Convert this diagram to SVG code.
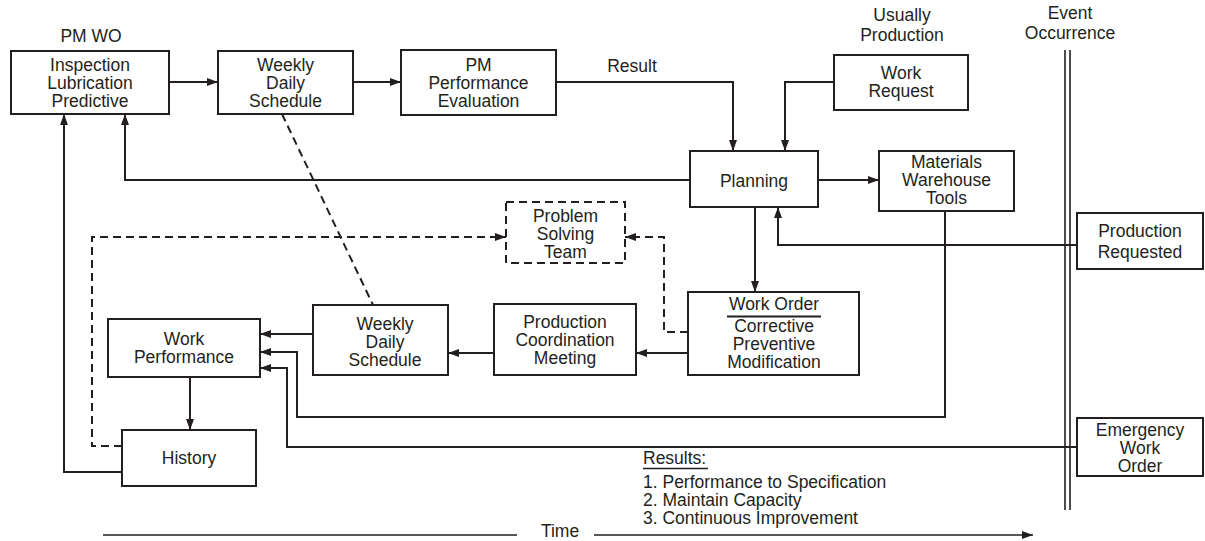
<svg xmlns="http://www.w3.org/2000/svg" width="1205" height="541" viewBox="0 0 1205 541">
  <style>
    .box { fill: #fff; stroke: #231f20; stroke-width: 2; }
    .dbox { fill: #fff; stroke: #231f20; stroke-width: 2; stroke-dasharray: 8 5; }
    .t { font-family: "Liberation Sans", Arial, sans-serif; font-size: 17.5px; fill: #231f20; text-anchor: middle; }
    .tl { font-family: "Liberation Sans", Arial, sans-serif; font-size: 17.5px; fill: #231f20; }
    .ln { fill: none; stroke: #231f20; stroke-width: 2; }
    .dl { fill: none; stroke: #231f20; stroke-width: 2; stroke-dasharray: 8 5; }
    .thin { fill: none; stroke: #231f20; stroke-width: 1.6; }
  </style>
  <defs>
    <marker id="arr" markerUnits="userSpaceOnUse" markerWidth="11" markerHeight="8" refX="11" refY="4" orient="auto">
      <path d="M0,0 L11,4 L0,8 z" fill="#231f20"/>
    </marker>
  </defs>
  <rect width="1205" height="541" fill="#fff"/>

  <!-- free labels -->
  <g id="labels">
    <text class="t" x="91" y="42">PM WO</text>
    <text class="t" x="632" y="72">Result</text>
    <text class="t" x="902" y="21">Usually</text>
    <text class="t" x="902" y="41">Production</text>
    <text class="t" x="1070" y="19">Event</text>
    <text class="t" x="1070" y="39">Occurrence</text>
    <text class="tl" x="643" y="464">Results:</text>
    <line class="thin" x1="643" y1="468.5" x2="708" y2="468.5"/>
    <text class="tl" x="643" y="488">1. Performance to Specification</text>
    <text class="tl" x="643" y="506">2. Maintain Capacity</text>
    <text class="tl" x="643" y="524">3. Continuous Improvement</text>
    <text class="t" x="560" y="537">Time</text>
  </g>

  <!-- event occurrence boundary and time axis -->
  <g id="axes">
    <line class="thin" x1="1065" y1="50" x2="1065" y2="510"/>
    <line class="thin" x1="1070" y1="50" x2="1070" y2="510"/>
    <line class="thin" x1="103" y1="535" x2="517" y2="535"/>
    <line class="thin" x1="594" y1="535" x2="1033" y2="535" marker-end="url(#arr)"/>
  </g>

  <!-- connectors -->
  <g id="connectors">
    <line class="ln" x1="169" y1="82" x2="218" y2="82" marker-end="url(#arr)"/>
    <line class="ln" x1="353" y1="82" x2="401" y2="82" marker-end="url(#arr)"/>
    <polyline class="ln" points="556,82 733,82 733,151" marker-end="url(#arr)"/>
    <polyline class="ln" points="834,82 785,82 785,151" marker-end="url(#arr)"/>
    <line class="ln" x1="818" y1="180" x2="879" y2="180" marker-end="url(#arr)"/>
    <polyline class="ln" points="690,180 125,180 125,114" marker-end="url(#arr)"/>
    <polyline class="ln" points="122,472 64,472 64,114" marker-end="url(#arr)"/>
    <line class="ln" x1="755" y1="207" x2="755" y2="292" marker-end="url(#arr)"/>
    <polyline class="ln" points="1077,245 778,245 778,207" marker-end="url(#arr)"/>
    <line class="ln" x1="688" y1="353" x2="636" y2="353" marker-end="url(#arr)"/>
    <line class="ln" x1="494" y1="353" x2="448" y2="353" marker-end="url(#arr)"/>
    <line class="ln" x1="313" y1="334" x2="260" y2="334" marker-end="url(#arr)"/>
    <polyline class="ln" points="945,211 945,417 297,417 297,352 260,352" marker-end="url(#arr)"/>
    <polyline class="ln" points="1077,447 287,447 287,368 260,368" marker-end="url(#arr)"/>
    <line class="ln" x1="190" y1="377" x2="190" y2="430" marker-end="url(#arr)"/>
    <polyline class="dl" points="122,446 92,446 92,237 506,237" marker-end="url(#arr)"/>
    <polyline class="dl" points="688,332 664,332 664,237 625,237" marker-end="url(#arr)"/>
    <line class="dl" x1="282" y1="114" x2="373" y2="305"/>
  </g>

  <g id="pm-wo">
    <rect class="box" x="11" y="51" width="158" height="63"/>
    <text class="t" x="90" y="71">Inspection</text>
    <text class="t" x="90" y="89">Lubrication</text>
    <text class="t" x="90" y="107">Predictive</text>
  </g>
  <g id="schedule-top">
    <rect class="box" x="218" y="51" width="135" height="63"/>
    <text class="t" x="285.5" y="71">Weekly</text>
    <text class="t" x="285.5" y="89">Daily</text>
    <text class="t" x="285.5" y="107">Schedule</text>
  </g>
  <g id="pm-evaluation">
    <rect class="box" x="401" y="50" width="155" height="65"/>
    <text class="t" x="478.5" y="71">PM</text>
    <text class="t" x="478.5" y="89">Performance</text>
    <text class="t" x="478.5" y="107">Evaluation</text>
  </g>
  <g id="work-request">
    <rect class="box" x="834" y="55" width="134" height="55"/>
    <text class="t" x="901" y="79">Work</text>
    <text class="t" x="901" y="97">Request</text>
  </g>
  <g id="planning">
    <rect class="box" x="690" y="151" width="128" height="56"/>
    <text class="t" x="754" y="187">Planning</text>
  </g>
  <g id="materials">
    <rect class="box" x="879" y="151" width="135" height="60"/>
    <text class="t" x="946.5" y="168">Materials</text>
    <text class="t" x="946.5" y="186">Warehouse</text>
    <text class="t" x="946.5" y="204">Tools</text>
  </g>
  <g id="production-requested">
    <rect class="box" x="1077" y="213" width="126" height="56"/>
    <text class="t" x="1140" y="237">Production</text>
    <text class="t" x="1140" y="258">Requested</text>
  </g>
  <g id="problem-solving">
    <rect class="dbox" x="506" y="202" width="119" height="61"/>
    <text class="t" x="565.5" y="222">Problem</text>
    <text class="t" x="565.5" y="240">Solving</text>
    <text class="t" x="565.5" y="258">Team</text>
  </g>
  <g id="work-order">
    <rect class="box" x="688" y="292" width="171" height="83"/>
    <text class="t" x="774" y="310">Work Order</text>
    <line class="ln" x1="727" y1="316.5" x2="821" y2="316.5"/>
    <text class="t" x="774" y="332">Corrective</text>
    <text class="t" x="774" y="350">Preventive</text>
    <text class="t" x="774" y="368">Modification</text>
  </g>
  <g id="coordination-meeting">
    <rect class="box" x="494" y="304" width="142" height="71"/>
    <text class="t" x="565" y="328">Production</text>
    <text class="t" x="565" y="346">Coordination</text>
    <text class="t" x="565" y="364">Meeting</text>
  </g>
  <g id="schedule-bottom">
    <rect class="box" x="313" y="305" width="135" height="70"/>
    <text class="t" x="385" y="330">Weekly</text>
    <text class="t" x="385" y="348">Daily</text>
    <text class="t" x="385" y="366">Schedule</text>
  </g>
  <g id="work-performance">
    <rect class="box" x="108" y="319" width="152" height="58"/>
    <text class="t" x="184" y="345">Work</text>
    <text class="t" x="184" y="363">Performance</text>
  </g>
  <g id="history">
    <rect class="box" x="122" y="430" width="134" height="56"/>
    <text class="t" x="189" y="464">History</text>
  </g>
  <g id="emergency">
    <rect class="box" x="1077" y="418" width="126" height="58"/>
    <text class="t" x="1140" y="436">Emergency</text>
    <text class="t" x="1140" y="454">Work</text>
    <text class="t" x="1140" y="472">Order</text>
  </g>
</svg>
